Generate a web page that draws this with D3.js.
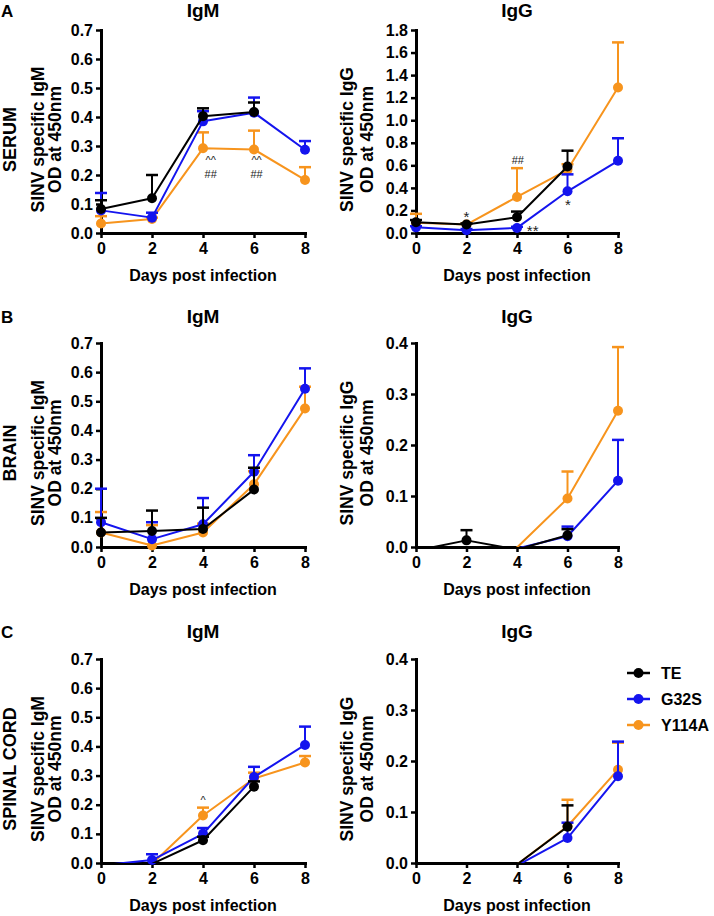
<!DOCTYPE html>
<html><head><meta charset="utf-8">
<script src="https://cdn.jsdelivr.net/npm/d3@7"></script>
<style>
body{margin:0;background:#fff}
svg{display:block}
text{font-family:"Liberation Sans",Arial,Helvetica,sans-serif}
</style>
</head><body>
<svg id="chart" width="714" height="916"></svg>
<script>
// ---------- DATA ----------
const days = [0, 2, 4, 6, 8];
const xTicks = [0, 2, 4, 6, 8];
const seriesNames = ["TE", "G32S", "Y114A"];
const seriesColors = ["#000000", "#1414ee", "#f7941d"];
const rowNames = ["SERUM", "BRAIN", "SPINAL CORD"];
const panelLetters = ["A", "B", "C"];
const colTitles = ["IgM", "IgG"];
const yLabelLine1 = ["SINV specific IgM", "SINV specific IgG"];
const yLabelLine2 = "OD at 450nm";
const xLabel = "Days post infection";
const igmTicks = [0, 0.1, 0.2, 0.3, 0.4, 0.5, 0.6, 0.7];
const serumIgGTicks = [0, 0.2, 0.4, 0.6, 0.8, 1.0, 1.2, 1.4, 1.6, 1.8];
const tissueIgGTicks = [0, 0.1, 0.2, 0.3, 0.4];

// Serum IgM (means, upper SEM)
const serumIgM_TE = [0.083, 0.12, 0.403, 0.417, null];
const serumIgM_TE_err = [0.03, 0.08, 0.027, 0.033, null];
const serumIgM_G32S = [0.078, 0.053, 0.385, 0.415, 0.287];
const serumIgM_G32S_err = [0.06, 0.017, 0.035, 0.052, 0.03];
const serumIgM_Y114A = [0.033, 0.048, 0.292, 0.288, 0.183];
const serumIgM_Y114A_err = [0.025, 0.005, 0.055, 0.065, 0.044];
// Serum IgG
const serumIgG_TE = [0.095, 0.075, 0.14, 0.59, null];
const serumIgG_TE_err = [0.02, 0.01, 0.05, 0.14, null];
const serumIgG_G32S = [0.05, 0.025, 0.045, 0.37, 0.64];
const serumIgG_G32S_err = [0.01, 0.01, 0.01, 0.15, 0.2];
const serumIgG_Y114A = [0.09, 0.075, 0.32, 0.56, 1.29];
const serumIgG_Y114A_err = [0.08, 0.01, 0.255, 0.05, 0.40];
// Brain IgM
const brainIgM_TE = [0.05, 0.055, 0.062, 0.197, null];
const brainIgM_TE_err = [0.05, 0.07, 0.073, 0.075, null];
const brainIgM_G32S = [0.085, 0.027, 0.078, 0.258, 0.543];
const brainIgM_G32S_err = [0.115, 0.058, 0.09, 0.057, 0.07];
const brainIgM_Y114A = [0.05, 0.005, 0.05, 0.215, 0.475];
const brainIgM_Y114A_err = [0.07, 0.07, 0.03, 0.045, 0.075];
// Brain IgG (values below 0 fall under the axis)
const brainIgG_TE = [-0.007, 0.013, -0.005, 0.023, null];
const brainIgG_TE_err = [0, 0.02, 0, 0.012, null];
const brainIgG_G32S = [-0.05, -0.05, -0.003, 0.021, 0.13];
const brainIgG_G32S_err = [0, 0, 0, 0.019, 0.08];
const brainIgG_Y114A = [-0.05, -0.05, -0.001, 0.095, 0.267];
const brainIgG_Y114A_err = [0, 0, 0, 0.053, 0.125];
// Spinal cord IgM
const spinalIgM_TE = [-0.05, -0.003, 0.078, 0.262, null];
const spinalIgM_TE_err = [0, 0, 0.012, 0.018, null];
const spinalIgM_G32S = [-0.008, 0.01, 0.1, 0.295, 0.405];
const spinalIgM_G32S_err = [0, 0.02, 0.02, 0.035, 0.063];
const spinalIgM_Y114A = [-0.05, -0.003, 0.163, 0.29, 0.345];
const spinalIgM_Y114A_err = [0, 0, 0.027, 0.02, 0.022];
// Spinal cord IgG
const spinalIgG_TE = [-0.05, -0.05, -0.003, 0.071, null];
const spinalIgG_TE_err = [0, 0, 0, 0.042, null];
const spinalIgG_G32S = [-0.05, -0.05, -0.005, 0.049, 0.17];
const spinalIgG_G32S_err = [0, 0, 0, 0.03, 0.068];
const spinalIgG_Y114A = [-0.05, -0.05, -0.003, 0.072, 0.183];
const spinalIgG_Y114A_err = [0, 0, 0, 0.052, 0.053];

// Significance marks (day, value at text baseline, text)
const serumIgM_annDay = [4.3, 4.3, 6.1, 6.1];
const serumIgM_annVal = [0.237, 0.19, 0.237, 0.19];
const serumIgM_annText = ["^^", "##", "^^", "##"];
const serumIgG_annDay = [2, 4.03, 4.62, 6.02];
const serumIgG_annVal = [0.096, 0.615, -0.023, 0.2];
const serumIgG_annText = ["*", "##", "**", "*"];
const spinalIgM_annDay = [4];
const spinalIgM_annVal = [0.204];
const spinalIgM_annText = ["^"];

// ---------- LAYOUT ----------
const cols = [{x0: 101, x1: 305}, {x0: 416, x1: 618}];
const rows = [{top: 30, bot: 233, title: 17}, {top: 343, bot: 547, title: 323}, {top: 659, bot: 863, title: 638}];
const lab1X = [43.5, 353];
const lab2X = [61, 373];

const panels = [
  {r: 0, c: 0, ymax: 0.7, ticks: igmTicks, s: [[serumIgM_TE, serumIgM_TE_err], [serumIgM_G32S, serumIgM_G32S_err], [serumIgM_Y114A, serumIgM_Y114A_err]], ann: [serumIgM_annDay, serumIgM_annVal, serumIgM_annText]},
  {r: 0, c: 1, ymax: 1.8, ticks: serumIgGTicks, s: [[serumIgG_TE, serumIgG_TE_err], [serumIgG_G32S, serumIgG_G32S_err], [serumIgG_Y114A, serumIgG_Y114A_err]], ann: [serumIgG_annDay, serumIgG_annVal, serumIgG_annText]},
  {r: 1, c: 0, ymax: 0.7, ticks: igmTicks, s: [[brainIgM_TE, brainIgM_TE_err], [brainIgM_G32S, brainIgM_G32S_err], [brainIgM_Y114A, brainIgM_Y114A_err]], ann: null},
  {r: 1, c: 1, ymax: 0.4, ticks: tissueIgGTicks, s: [[brainIgG_TE, brainIgG_TE_err], [brainIgG_G32S, brainIgG_G32S_err], [brainIgG_Y114A, brainIgG_Y114A_err]], ann: null},
  {r: 2, c: 0, ymax: 0.7, ticks: igmTicks, s: [[spinalIgM_TE, spinalIgM_TE_err], [spinalIgM_G32S, spinalIgM_G32S_err], [spinalIgM_Y114A, spinalIgM_Y114A_err]], ann: [spinalIgM_annDay, spinalIgM_annVal, spinalIgM_annText]},
  {r: 2, c: 1, ymax: 0.4, ticks: tissueIgGTicks, s: [[spinalIgG_TE, spinalIgG_TE_err], [spinalIgG_G32S, spinalIgG_G32S_err], [spinalIgG_Y114A, spinalIgG_Y114A_err]], ann: null}
];

const svg = d3.select("#chart");
const defs = svg.append("defs");
const fmt = d3.format(".1f");

panels.forEach((p, i) => {
  const col = cols[p.c], row = rows[p.r];
  const x = d3.scaleLinear().domain([0, 8]).range([col.x0, col.x1]);
  const y = d3.scaleLinear().domain([0, p.ymax]).range([row.bot, row.top]);
  const g = svg.append("g");

  // title
  g.append("text").attr("x", (col.x0 + col.x1) / 2).attr("y", row.title)
    .attr("text-anchor", "middle").attr("font-size", 19).attr("font-weight", "bold").text(colTitles[p.c]);

  // y labels
  const cy = (row.top + row.bot) / 2 + 8;
  g.append("text").attr("transform", `translate(${lab1X[p.c]},${cy}) rotate(-90)`)
    .attr("text-anchor", "middle").attr("font-size", 17.5).attr("font-weight", "bold").text(yLabelLine1[p.c]);
  g.append("text").attr("transform", `translate(${lab2X[p.c]},${cy}) rotate(-90)`)
    .attr("text-anchor", "middle").attr("font-size", 17.5).attr("font-weight", "bold").text(yLabelLine2);
  if (p.c === 0) {
    g.append("text").attr("transform", `translate(16,${cy}) rotate(-90)`)
      .attr("text-anchor", "middle").attr("font-size", 18).attr("font-weight", "bold").text(rowNames[p.r]);
    g.append("text").attr("x", 1).attr("y", row.title)
      .attr("font-size", 17).attr("font-weight", "bold").text(panelLetters[p.r]);
  }

  // axes
  const ya = g.append("g").attr("transform", `translate(${col.x0},0)`)
    .call(d3.axisLeft(y).tickValues(p.ticks).tickFormat(fmt).tickSize(5).tickSizeOuter(0).tickPadding(3));
  const xa = g.append("g").attr("transform", `translate(0,${row.bot})`)
    .call(d3.axisBottom(x).tickValues(xTicks).tickFormat(d3.format("d")).tickSize(5).tickSizeOuter(0).tickPadding(5));
  [ya, xa].forEach(a => {
    a.select(".domain").attr("stroke", "#000").attr("stroke-width", 3).attr("stroke-linecap", "square");
    a.selectAll(".tick line").attr("stroke", "#000").attr("stroke-width", 2.5);
    a.selectAll(".tick text").attr("font-size", 16).attr("font-weight", "bold").attr("fill", "#000")
      .attr("font-family", '"Liberation Sans",Arial,sans-serif');
  });

  g.append("text").attr("x", (col.x0 + col.x1) / 2).attr("y", row.bot + 48)
    .attr("text-anchor", "middle").attr("font-size", 16).attr("font-weight", "bold").text(xLabel);

  // clip for lines (nothing below the x axis)
  const cid = "clip" + i;
  defs.append("clipPath").attr("id", cid).append("rect")
    .attr("x", col.x0 - 20).attr("y", row.top - 30).attr("width", col.x1 - col.x0 + 40).attr("height", row.bot - row.top + 30);

  // series: draw Y114A, G32S, TE (TE on top)
  [2, 1, 0].forEach(si => {
    const [vals, errs] = p.s[si];
    const color = seriesColors[si];
    const pts = days.map((d, k) => ({d, v: vals[k], e: errs[k]})).filter(o => o.v !== null);
    const sg = g.append("g");
    const vis = pts.filter(o => o.v >= 0);
    // error bars (upper)
    sg.selectAll("line.eb").data(vis.filter(o => o.e > 0)).join("line")
      .attr("x1", o => x(o.d)).attr("x2", o => x(o.d)).attr("y1", o => y(o.v)).attr("y2", o => y(o.v + o.e))
      .attr("stroke", color).attr("stroke-width", 2);
    sg.selectAll("line.cap").data(vis.filter(o => o.e > 0)).join("line")
      .attr("x1", o => x(o.d) - 6).attr("x2", o => x(o.d) + 6).attr("y1", o => y(o.v + o.e)).attr("y2", o => y(o.v + o.e))
      .attr("stroke", color).attr("stroke-width", 2.5);
    // line
    sg.append("path").datum(pts).attr("clip-path", `url(#${cid})`)
      .attr("d", d3.line().x(o => x(o.d)).y(o => y(o.v)))
      .attr("fill", "none").attr("stroke", color).attr("stroke-width", 2).attr("stroke-linejoin", "round");
    // markers
    sg.selectAll("circle").data(vis).join("circle")
      .attr("cx", o => x(o.d)).attr("cy", o => y(o.v)).attr("r", 5).attr("fill", color);
  });

  // annotations
  if (p.ann) {
    const [ad, av, at] = p.ann;
    ad.forEach((d, k) => {
      const star = at[k].includes("*");
      g.append("text").attr("x", x(d)).attr("y", y(av[k])).attr("text-anchor", "middle")
        .attr("font-size", star ? 15 : 11).attr("fill", "#222").text(at[k]);
    });
  }
});

// legend
const legY = [673, 699, 725];
seriesNames.forEach((n, i) => {
  const lg = svg.append("g");
  lg.append("line").attr("x1", 627).attr("x2", 650).attr("y1", legY[i]).attr("y2", legY[i])
    .attr("stroke", seriesColors[i]).attr("stroke-width", 2.5);
  lg.append("circle").attr("cx", 638.5).attr("cy", legY[i]).attr("r", 5).attr("fill", seriesColors[i]);
  lg.append("text").attr("x", 661).attr("y", legY[i] + 6).attr("font-size", 16).attr("font-weight", "bold").text(n);
});
</script>
</body></html>
